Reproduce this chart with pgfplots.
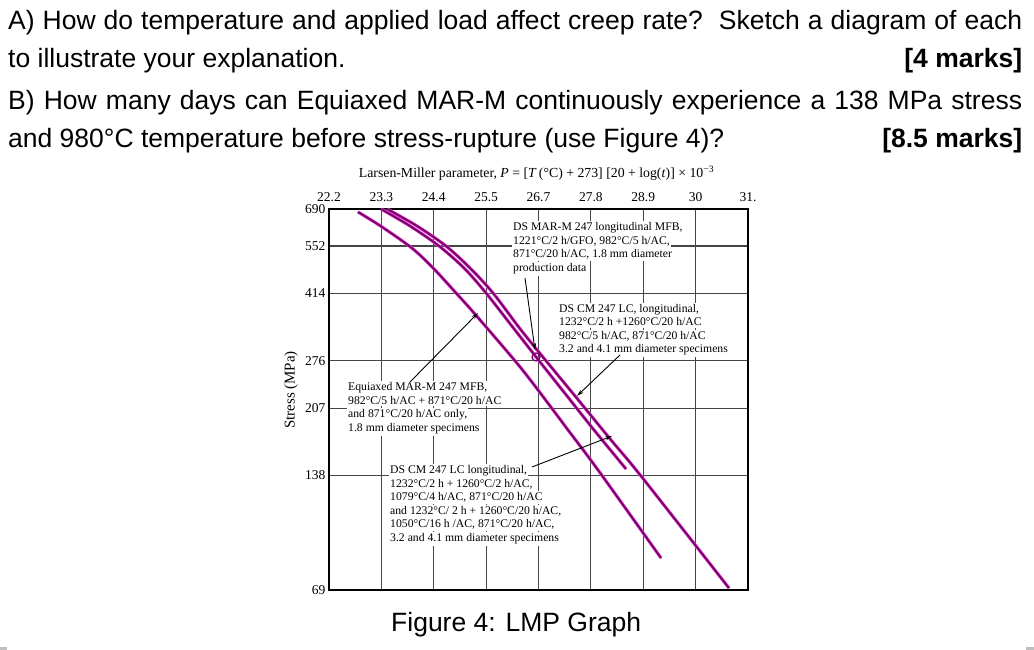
\documentclass[border=0pt]{standalone}
\usepackage{fontspec}
\setmainfont{Liberation Serif}
\newfontfamily\arial{Liberation Sans}
\usepackage{pgfplots}
\pgfplotsset{compat=1.18}
\usetikzlibrary{arrows.meta}
\definecolor{core}{RGB}{125,0,110}
\definecolor{halo}{RGB}{232,80,214}
\definecolor{gridc}{RGB}{70,70,70}
\newcommand\annfont{\fontsize{11.7}{13.5}\selectfont}
\begin{document}
\begin{tikzpicture}[x=1pt,y=1pt]
\useasboundingbox (0,0) rectangle (1034,650);
\fill[white] (0,0) rectangle (1034,650);
\fill[black!25] (0,0) rectangle (7,3);
\fill[black!25] (1026,0) rectangle (1034,3);
% ---------- question text ----------
\begin{scope}[every node/.style={inner sep=0pt, anchor=base west, font=\arial\fontsize{26.5}{30}\selectfont}]
\node at (8,620) {\makebox[1014pt][s]{A) How do temperature and applied load affect creep rate?\ \ Sketch a diagram of each}};
\node at (8,582) {\makebox[1014pt][l]{to illustrate your explanation.\hfill\textbf{[4 marks]}}};
\node at (8,540) {\makebox[1014pt][s]{B) How many days can Equiaxed MAR-M continuously experience a 138 MPa stress}};
\node at (8,502) {\makebox[1014pt][l]{and 980°C temperature before stress-rupture (use Figure 4)?\hfill\textbf{[8.5 marks]}}};
\node at (391,18) {Figure 4: LMP Graph};
\end{scope}
% ---------- chart ----------
\begin{axis}[
  at={(329pt,60pt)}, anchor=south west,
  scale only axis, width=419pt, height=381pt,
  xmin=22.2222, xmax=31.1111,
  ymode=log, ymin=69, ymax=690,
  xtick={22.2222,23.3333,24.4444,25.5556,26.6667,27.7778,28.8889,30,31.1111},
  xticklabels={22.2,23.3,24.4,25.5,26.7,27.8,28.9,30,31.},
  xticklabel pos=upper,
  xticklabel style={yshift=4pt},
  ytick={69,138,207,276,414,552,690},
  yticklabels={69,138,207,276,414,552,690},
  major tick length=0pt,
  grid=major,
  major grid style={line width=1.2pt, color=gridc},
  axis line style={line width=1.5pt, black},
  tick label style={font=\fontsize{13.5}{14}\selectfont},
  /pgf/number format/assume math mode=true,
]
% Equiaxed MAR-M 247
\addplot[halo, line width=3.2pt, smooth, tension=0.5] coordinates {(22.837,677.6) (23.347,619.0) (24.004,541.9) (24.471,477.2) (24.917,415.3) (25.298,368.1) (26.189,273.7) (26.656,231.1) (27.293,181.5) (27.929,142.5) (29.266,83.7)};
\addplot[core, line width=2.0pt, smooth, tension=0.5] coordinates {(22.837,677.6) (23.347,619.0) (24.004,541.9) (24.471,477.2) (24.917,415.3) (25.298,368.1) (26.189,273.7) (26.656,231.1) (27.293,181.5) (27.929,142.5) (29.266,83.7)};
% DS CM 247 LC (second heat treatment)
\addplot[halo, line width=3.2pt, smooth, tension=0.5] coordinates {(23.325,690) (23.941,622.6) (24.556,551.6) (25.086,483.0) (25.553,415.3) (26.168,332.0) (26.699,273.7) (27.271,222.9) (27.844,181.5) (28.523,143.4)};
\addplot[core, line width=2.0pt, smooth, tension=0.5] coordinates {(23.325,690) (23.941,622.6) (24.556,551.6) (25.086,483.0) (25.553,415.3) (26.168,332.0) (26.699,273.7) (27.271,222.9) (27.844,181.5) (28.523,143.4)};
% DS CM 247 LC (first heat treatment)
\addplot[halo, line width=3.2pt, smooth, tension=0.5] coordinates {(23.453,690) (24.089,622.6) (24.704,551.6) (25.213,483.0) (25.701,415.3) (26.296,332.0) (26.847,273.7) (27.441,222.9) (28.205,170.8) (28.841,137.4) (30.708,69.8)};
\addplot[core, line width=2.0pt, smooth, tension=0.5] coordinates {(23.453,690) (24.089,622.6) (24.704,551.6) (25.213,483.0) (25.701,415.3) (26.296,332.0) (26.847,273.7) (27.441,222.9) (28.205,170.8) (28.841,137.4) (30.708,69.8)};
% DS MAR-M 247 production data point
\addplot[only marks, mark=o, mark size=4pt, mark options={line width=1.3pt, draw=core, fill=white}] coordinates {(26.614,282.1)};
\end{axis}
% ---------- titles ----------
\node[anchor=base, inner sep=0pt, font=\fontsize{13.8}{15}\selectfont] at (536.5,472)
  {Larsen-Miller parameter, \textit{P} = [\textit{T}\,(°C) + 273] [20 + log(\textit{t})] × 10\textsuperscript{−3}};
\node[rotate=90, inner sep=0pt, font=\fontsize{15}{16}\selectfont] at (291,260) {Stress (MPa)};
% ---------- annotations ----------
\begin{scope}[every node/.style={anchor=base west, fill=white, inner xsep=1pt, inner ysep=1.6pt, font=\annfont}]
\node at (512,419) {DS MAR-M 247 longitudinal MFB,};
\node at (512,405.5) {1221°C/2 h/GFO, 982°C/5 h/AC,};
\node at (512,392) {871°C/20 h/AC, 1.8 mm diameter};
\node at (512,378.5) {production data};
\node at (558,337.5) {DS CM 247 LC, longitudinal,};
\node at (558,324) {1232°C/2 h +1260°C/20 h/AC};
\node at (558,310.5) {982°C/5 h/AC, 871°C/20 h/AC};
\node at (558,297) {3.2 and 4.1 mm diameter specimens};
\node at (347,259) {Equiaxed MAR-M 247 MFB,};
\node at (347,245.5) {982°C/5 h/AC + 871°C/20 h/AC};
\node at (347,232) {and 871°C/20 h/AC only,};
\node at (347,218.5) {1.8 mm diameter specimens};
\node at (389,176) {DS CM 247 LC longitudinal,};
\node at (389,162.5) {1232°C/2 h + 1260°C/2 h/AC,};
\node at (389,149) {1079°C/4 h/AC, 871°C/20 h/AC};
\node at (389,135.5) {and 1232°C/ 2 h + 1260°C/20 h/AC,};
\node at (389,122) {1050°C/16 h /AC, 871°C/20 h/AC,};
\node at (389,108.5) {3.2 and 4.1 mm diameter specimens};
\end{scope}
\begin{scope}[line width=0.9pt, -{Stealth[length=7pt,width=4pt]}]
\draw (525,372) -- (535,300);
\draw (620,295) -- (577,254);
\draw (410,268) -- (478,337);
\draw (532,183) -- (612,214);
\end{scope}
\end{tikzpicture}
\end{document}
